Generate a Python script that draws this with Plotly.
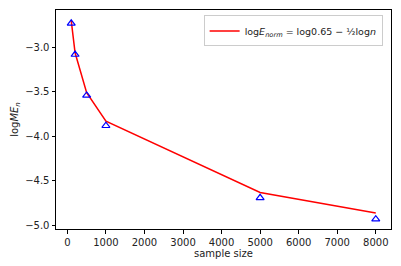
import plotly.graph_objects as go

sample_sizes = [100, 200, 500, 1000, 5000, 8000]
line_values = [-2.70, -3.06, -3.51, -3.83, -4.63, -4.86]
marker_values = [-2.73, -3.08, -3.54, -3.88, -4.69, -4.93]
x_ticks = [0, 1000, 2000, 3000, 4000, 5000, 6000, 7000, 8000]
y_ticks = [-3.0, -3.5, -4.0, -4.5, -5.0]

legend_label = "log<i>E</i><sub><i>norm</i></sub> = log0.65 − ½log<i>n</i>"

fig = go.Figure()
fig.add_trace(go.Scatter(
    x=sample_sizes, y=line_values, mode="lines",
    line=dict(color="red", width=1.5), name=legend_label))
fig.add_trace(go.Scatter(
    x=sample_sizes, y=marker_values, mode="markers",
    marker=dict(symbol="triangle-up-open", color="blue", size=7, line=dict(width=1.2)),
    showlegend=False))

axis_common = dict(
    showline=True, linecolor="black", linewidth=1, mirror=True,
    ticks="outside", ticklen=3.5, tickcolor="black", tickwidth=1,
    showgrid=False, zeroline=False, automargin=False,
    tickfont=dict(family="DejaVu Sans", size=10, color="#222"),
)

fig.update_layout(
    width=393, height=258,
    margin=dict(l=48, r=10, t=2, b=37),
    paper_bgcolor="white", plot_bgcolor="white",
    font=dict(family="DejaVu Sans", size=10, color="#222"),
    xaxis=dict(range=[-295, 8395], tickvals=x_ticks,
               title=dict(text="sample size", standoff=3, font=dict(size=10)),
               **axis_common),
    yaxis=dict(range=[-5.04, -2.58], tickvals=y_ticks, tickformat=".1f",
               title=dict(text="log<i>ME</i><sub><i>n</i></sub>", standoff=4, font=dict(size=10)),
               **axis_common),
    legend=dict(x=0.975, y=0.975, xanchor="right", yanchor="top",
                bordercolor="#cccccc", borderwidth=1, bgcolor="white",
                font=dict(size=9.5), itemwidth=30),
    showlegend=True,
)

fig.write_html("out.html")
